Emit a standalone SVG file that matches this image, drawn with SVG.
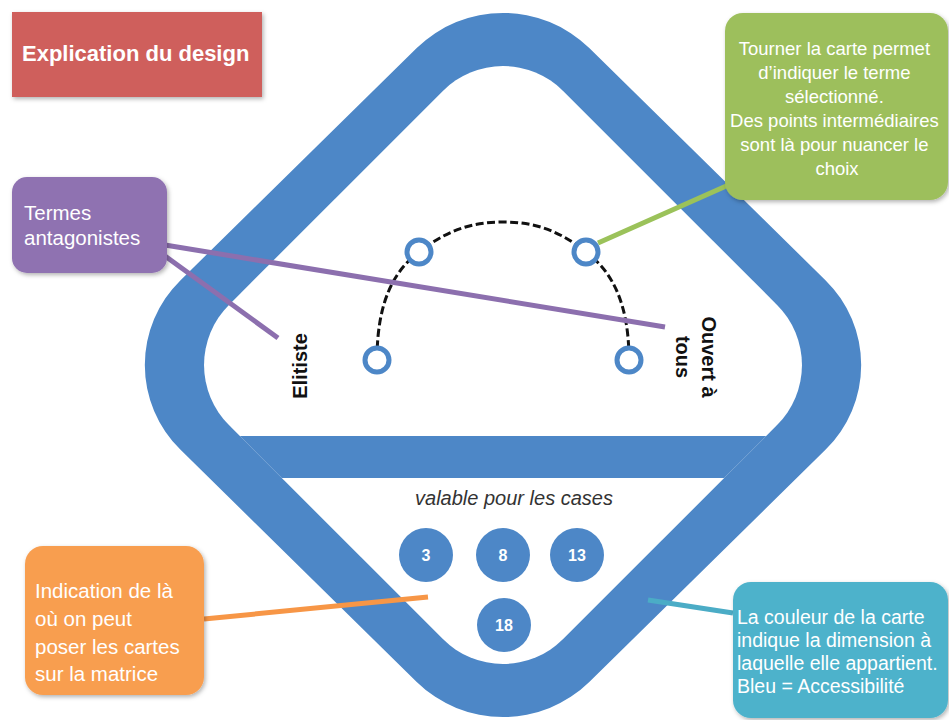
<svg xmlns="http://www.w3.org/2000/svg" width="949" height="720" viewBox="0 0 949 720">
<defs>
<style>
.box text{font-family:"Liberation Sans",Arial,sans-serif;fill:#ffffff}
.lbl{font-family:"Liberation Sans",Arial,sans-serif;font-weight:bold;fill:#111;font-size:20px}
.num{font-family:"Liberation Sans",Arial,sans-serif;font-weight:bold;fill:#fff;font-size:16px;text-anchor:middle}
.ring{fill:#ffffff;stroke:#4d87c7;stroke-width:5}
.conn{stroke-width:5;fill:none}
</style>
<filter id="sh" x="-10%" y="-10%" width="130%" height="130%">
<feDropShadow dx="1.5" dy="2" stdDeviation="2" flood-color="#000" flood-opacity="0.3"/>
</filter>
<clipPath id="innerClip">
<rect x="-236.3" y="-236.3" width="472.6" height="472.6" rx="85" transform="translate(503,365) rotate(45)"/>
</clipPath>
</defs>
<rect width="949" height="720" fill="#ffffff"/>

<g id="card">
<rect x="-289" y="-289" width="578" height="578" rx="122" fill="#4d87c7" transform="translate(503,365) scale(1,0.983) rotate(45)"/>
<rect x="-236.3" y="-236.3" width="472.6" height="472.6" rx="85" fill="#ffffff" transform="translate(503,365) rotate(45)"/>
<rect x="140" y="436" width="730" height="42" fill="#4d87c7" clip-path="url(#innerClip)"/>
</g>

<g id="scale">
<path d="M377,360 C377,300 395,270 419,252 C450,228 475,222 503,222 C531,222 556,228 586,252 C610,270 629,300 629,360" fill="none" stroke="#111" stroke-width="3" stroke-dasharray="8 3.5"/>
<circle class="ring" cx="377" cy="360" r="12"/>
<circle class="ring" cx="419" cy="252" r="12"/>
<circle class="ring" cx="586" cy="252" r="12"/>
<circle class="ring" cx="629" cy="360" r="12"/>
</g>

<g id="label-elitiste">
<text class="lbl" text-anchor="middle" transform="translate(307,366) rotate(-90)">Elitiste</text>
</g>
<g id="label-ouvert">
<text class="lbl" text-anchor="middle" transform="translate(702,357) rotate(90)"><tspan x="0" y="0">Ouvert à</tspan><tspan x="0" y="26">tous</tspan></text>
</g>

<g id="cases">
<text x="514" y="505" font-family="Liberation Sans, Arial, sans-serif" font-style="italic" font-size="20" fill="#333" text-anchor="middle">valable pour les cases</text>
<g id="case-3"><circle cx="426" cy="555" r="27" fill="#4d87c7"/><text class="num" x="426" y="561">3</text></g>
<g id="case-8"><circle cx="503" cy="555" r="27" fill="#4d87c7"/><text class="num" x="503" y="561">8</text></g>
<g id="case-13"><circle cx="577" cy="555" r="27" fill="#4d87c7"/><text class="num" x="577" y="561">13</text></g>
<g id="case-18"><circle cx="504" cy="625" r="27" fill="#4d87c7"/><text class="num" x="504" y="631">18</text></g>
</g>

<g id="connectors">
<path class="conn" stroke="#9bc25a" d="M733,183 L598,243"/>
<path class="conn" stroke="#8c6fae" d="M165,245 L665,327"/>
<path class="conn" stroke="#8c6fae" d="M165,256 L278,338"/>
<path class="conn" stroke="#f79646" d="M204,619 L428,597"/>
<path class="conn" stroke="#4bacc6" d="M733,613 L648,600"/>
</g>

<g id="title" class="box">
<rect x="12" y="12" width="250" height="85" fill="#cf5f5c" filter="url(#sh)"/>
<text x="22" y="61" font-size="22" font-weight="bold">Explication du design</text>
</g>

<g id="note-green" class="box">
<rect x="725" y="13" width="223" height="187" rx="18" fill="#9dbf5b" filter="url(#sh)"/>
<text font-size="18.5" text-anchor="middle">
<tspan x="837" y="55">Tourner la carte permet</tspan>
<tspan x="837" y="79">d’indiquer le terme</tspan>
<tspan x="837" y="103">sélectionné.</tspan>
<tspan x="837" y="127">Des points intermédiaires</tspan>
<tspan x="837" y="151">sont là pour nuancer le</tspan>
<tspan x="837" y="175">choix</tspan>
</text>
</g>

<g id="note-purple" class="box">
<rect x="12" y="177" width="155" height="96" rx="15" fill="#8f72b1" filter="url(#sh)"/>
<text font-size="20.5"><tspan x="24" y="220">Termes</tspan><tspan x="24" y="245">antagonistes</tspan></text>
</g>

<g id="note-orange" class="box">
<rect x="25" y="546" width="179" height="149" rx="18" fill="#f89e4f" filter="url(#sh)"/>
<text font-size="20.5">
<tspan x="35" y="598">Indication de là</tspan>
<tspan x="35" y="626">où on peut</tspan>
<tspan x="35" y="654">poser les cartes</tspan>
<tspan x="35" y="681">sur la matrice</tspan>
</text>
</g>

<g id="note-cyan" class="box">
<rect x="733" y="582" width="215" height="136" rx="18" fill="#4db2cb" filter="url(#sh)"/>
<text font-size="19.5">
<tspan x="737" y="624">La couleur de la carte</tspan>
<tspan x="737" y="647">indique la dimension à</tspan>
<tspan x="737" y="670">laquelle elle appartient.</tspan>
<tspan x="737" y="693">Bleu = Accessibilité</tspan>
</text>
</g>
</svg>
